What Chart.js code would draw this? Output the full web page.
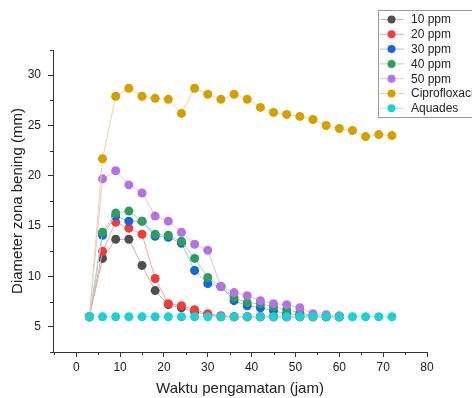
<!DOCTYPE html>
<html>
<head>
<meta charset="utf-8">
<script src="https://cdn.jsdelivr.net/npm/chart.js@4.4.1/dist/chart.umd.min.js"></script>
<style>
  html, body { margin: 0; padding: 0; background: #fff; }
  #wrap { width: 472px; height: 398px; }
</style>
</head>
<body>
<div id="wrap"><canvas id="chart" width="472" height="398"></canvas></div>
<script>
// waktu pengamatan (jam)
const hours = [3, 6, 9, 12, 15, 18, 21, 24, 27, 30, 33, 36, 39, 42, 45, 48, 51, 54, 57, 60, 63, 66, 69, 72];

// diameter zona bening (mm)
const ppm10 = [6.0, 11.8, 13.7, 13.7, 11.1, 8.6, 7.2, 6.9, 6.5, 6.2, 6.0, 6.0, 6.0, 6.0, 6.0, 6.0, 6.0, 6.0, 6.0, 6.0];
const ppm20 = [6.0, 12.5, 15.4, 14.8, 14.2, 9.8, 7.3, 7.1, 6.7, 6.3, 6.1, 6.0, 6.0, 6.0, 6.0, 6.0, 6.0, 6.0, 6.0, 6.0];
const ppm30 = [6.0, 14.1, 16.0, 15.5, 15.5, 14.0, 13.9, 13.3, 10.6, 9.3, 9.0, 7.6, 7.1, 6.9, 6.6, 6.3, 6.2, 6.1, 6.0, 6.0];
const ppm40 = [6.0, 14.4, 16.3, 16.5, 15.5, 14.2, 14.1, 13.5, 11.8, 9.9, 9.0, 7.9, 7.4, 7.3, 7.0, 6.7, 6.4, 6.1, 6.0, 6.0];
const ppm50 = [6.0, 19.7, 20.5, 19.1, 18.3, 16.0, 15.5, 14.4, 13.2, 12.6, 9.0, 8.4, 8.1, 7.6, 7.3, 7.2, 6.9, 6.3, 6.2, 6.1];
const cipro = [6.0, 21.7, 27.9, 28.7, 27.9, 27.7, 27.6, 26.2, 28.7, 28.1, 27.6, 28.1, 27.6, 26.8, 26.3, 26.1, 25.9, 25.6, 25.0, 24.7, 24.5, 23.9, 24.1, 24.0];
const aquades = [6.0, 6.0, 6.0, 6.0, 6.0, 6.0, 6.0, 6.0, 6.0, 6.0, 6.0, 6.0, 6.0, 6.0, 6.0, 6.0, 6.0, 6.0, 6.0, 6.0, 6.0, 6.0, 6.0, 6.0];

const seriesLabels = ['10 ppm', '20 ppm', '30 ppm', '40 ppm', '50 ppm', 'Ciprofloxacin', 'Aquades'];
const seriesValues = [ppm10, ppm20, ppm30, ppm40, ppm50, cipro, aquades];
const dotColors = ['#4f4f4f', '#f03c3c', '#1a63d8', '#2c9e5e', '#b473e0', '#d69f00', '#1fd0d0'];
const lineColors = ['#b9b9b9', '#f7a3a3', '#a3c2f0', '#a6d9bb', '#dcc4f2', '#efd699', '#a3ecec'];

const FONT = 'Arial, "Liberation Sans", sans-serif';
Chart.defaults.font.family = FONT;
Chart.defaults.color = '#222';

const toPoints = (vals) => vals.map((v, i) => ({ x: hours[i], y: v }));

const datasets = seriesValues.map((vals, i) => ({
    label: seriesLabels[i],
    data: toPoints(vals),
    borderColor: lineColors[i],
    borderWidth: 1,
    backgroundColor: dotColors[i],
    pointBackgroundColor: dotColors[i],
    pointBorderWidth: 0,
    pointRadius: 4.5,
    tension: 0,
    order: seriesLabels.length - i
}));

// short minor ticks between the labelled ones
const minorTicks = {
    id: 'minorTicks',
    afterDraw (chart) {
        const { ctx, chartArea } = chart;
        const xs = chart.scales.x, ys = chart.scales.y;
        ctx.save();
        ctx.strokeStyle = '#333';
        ctx.lineWidth = 1;
        ctx.beginPath();
        for (let v = -5; v <= 75; v += 10) {
            const px = Math.round(xs.getPixelForValue(v)) + 0.5;
            ctx.moveTo(px, chartArea.bottom);
            ctx.lineTo(px, chartArea.bottom + 3);
        }
        for (let v = 2.5; v <= 32.5; v += 5) {
            const py = Math.round(ys.getPixelForValue(v)) + 0.5;
            ctx.moveTo(chartArea.left, py);
            ctx.lineTo(chartArea.left - 3, py);
        }
        ctx.stroke();
        ctx.restore();
    }
};

// legend box in the top right corner, partly outside the picture
const boxLegend = {
    id: 'boxLegend',
    afterDraw (chart) {
        const ctx = chart.ctx;
        const left = 378, top = 10, rowH = 14.8;
        ctx.save();
        ctx.fillStyle = '#fff';
        ctx.fillRect(left, top, 110, 107);
        ctx.strokeStyle = '#9a9a9a';
        ctx.lineWidth = 1;
        ctx.strokeRect(left + 0.5, top + 0.5, 110, 107);
        ctx.font = '12px ' + FONT;
        ctx.textBaseline = 'middle';
        seriesLabels.forEach((label, i) => {
            const y = top + 9.5 + i * rowH;
            ctx.strokeStyle = lineColors[i];
            ctx.beginPath();
            ctx.moveTo(left + 2, y);
            ctx.lineTo(left + 26, y);
            ctx.stroke();
            ctx.fillStyle = dotColors[i];
            ctx.beginPath();
            ctx.arc(left + 13.5, y, 4, 0, Math.PI * 2);
            ctx.fill();
            ctx.fillStyle = '#222';
            ctx.fillText(label, left + 33, y + 0.5);
        });
        ctx.restore();
    }
};

new Chart(document.getElementById('chart'), {
    type: 'line',
    data: { datasets },
    plugins: [minorTicks, boxLegend],
    options: {
        responsive: false,
        animation: false,
        layout: { padding: { top: 50, right: 45, left: 0, bottom: 0 } },
        plugins: {
            legend: { display: false },
            tooltip: { enabled: false }
        },
        scales: {
            x: {
                type: 'linear',
                min: -5.3,
                max: 80,
                afterFit: (scale) => { scale.height = 46; },
                afterBuildTicks: (scale) => {
                    scale.ticks = [0, 10, 20, 30, 40, 50, 60, 70, 80].map(v => ({ value: v }));
                },
                grid: { drawOnChartArea: false, drawTicks: true, tickLength: 5, tickColor: '#333' },
                border: { display: true, color: '#333', width: 1 },
                ticks: { font: { size: 12 }, color: '#222', padding: 3, maxRotation: 0 },
                title: {
                    display: true,
                    text: 'Waktu pengamatan (jam)',
                    font: { size: 15 },
                    color: '#222',
                    padding: { top: 0, bottom: 0 }
                }
            },
            y: {
                min: 2.5,
                max: 32.5,
                afterFit: (scale) => { scale.width = 53; },
                afterBuildTicks: (scale) => {
                    scale.ticks = [5, 10, 15, 20, 25, 30].map(v => ({ value: v }));
                },
                grid: { drawOnChartArea: false, drawTicks: true, tickLength: 5, tickColor: '#333' },
                border: { display: true, color: '#333', width: 1 },
                ticks: { font: { size: 12 }, color: '#222', padding: 7 },
                title: {
                    display: true,
                    text: 'Diameter zona bening (mm)',
                    font: { size: 15 },
                    color: '#222',
                    padding: { top: 9, bottom: 0 }
                }
            }
        }
    }
});
</script>
</body>
</html>
